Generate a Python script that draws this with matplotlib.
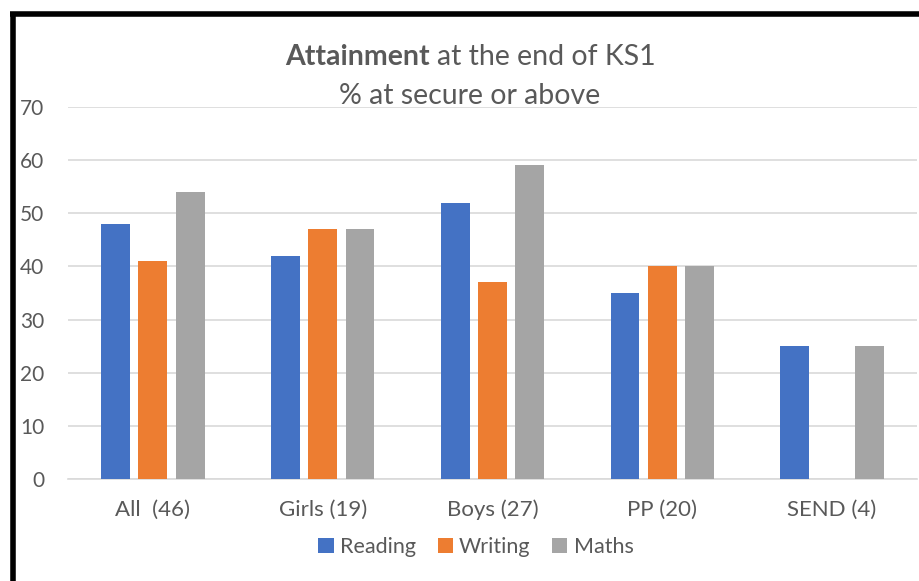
import numpy as np
import matplotlib
matplotlib.use("Agg")
import matplotlib.pyplot as plt
from matplotlib.lines import Line2D

plt.rcParams['font.family'] = ['Lato', 'DejaVu Sans']

categories = ["All  (46)", "Girls (19)", "Boys (27)", "PP (20)", "SEND (4)"]
reading = [48, 42, 52, 35, 25]
writing = [41, 47, 37, 40, 0]
maths = [54, 47, 59, 40, 25]
series_names = ["Reading", "Writing", "Maths"]
colors = ["#4472C4", "#ED7D31", "#A5A5A5"]
yticks = [0, 10, 20, 30, 40, 50, 60, 70]

W, H = 920, 581
fig = plt.figure(figsize=(W / 100, H / 100), dpi=100)
ax = fig.add_axes([68 / W, 1 - 479 / H, (917 - 68) / W, (479 - 107) / H])

x = np.arange(len(categories))
width = 0.17
step = 0.22
for i, (vals, name, c) in enumerate(zip([reading, writing, maths], series_names, colors)):
    ax.bar(x + (i - 1) * step, vals, width, color=c, label=name, zorder=3)

ax.set_xlim(-0.5, len(categories) - 0.5)
ax.set_ylim(0, 70)
ax.set_yticks(yticks)
ax.set_xticks(x)
ax.set_xticklabels(categories)
ax.grid(axis="y", color="#d9d9d9", linewidth=1.2, zorder=0)
for s in ["top", "right", "left"]:
    ax.spines[s].set_visible(False)
ax.spines["bottom"].set_color("#d9d9d9")
ax.spines["bottom"].set_linewidth(1.2)
ax.tick_params(length=0, labelsize=15, labelcolor="#595959")
ax.tick_params(axis="x", labelsize=16, pad=15)
ax.tick_params(axis="y", pad=17)

# title with bold first word
fig.text(430 / W, 1 - 57 / H, "Attainment", ha="right", va="center",
         fontsize=20.5, fontweight="bold", color="#595959")
fig.text(437 / W, 1 - 57 / H, "at the end of KS1", ha="left", va="center",
         fontsize=20.5, color="#595959")
fig.text(470 / W, 1 - 96 / H, "% at secure or above", ha="center", va="center",
         fontsize=20.5, color="#595959")

leg = fig.legend(loc="center", bbox_to_anchor=(476 / W, 1 - 547 / H), ncol=3,
                 frameon=False, fontsize=15.5, handlelength=0.7, handleheight=0.7,
                 handletextpad=0.3, columnspacing=1.0)
for t in leg.get_texts():
    t.set_color("#595959")

# black frame lines (top and left)
fig.add_artist(Line2D([10 / W, 1], [1 - 14 / H, 1 - 14 / H], color="black",
                      linewidth=4, transform=fig.transFigure, solid_capstyle="butt"))
fig.add_artist(Line2D([13 / W, 13 / W], [1 - 12 / H, 0], color="black",
                      linewidth=4, transform=fig.transFigure, solid_capstyle="butt"))

fig.savefig("out.png", dpi=100)
